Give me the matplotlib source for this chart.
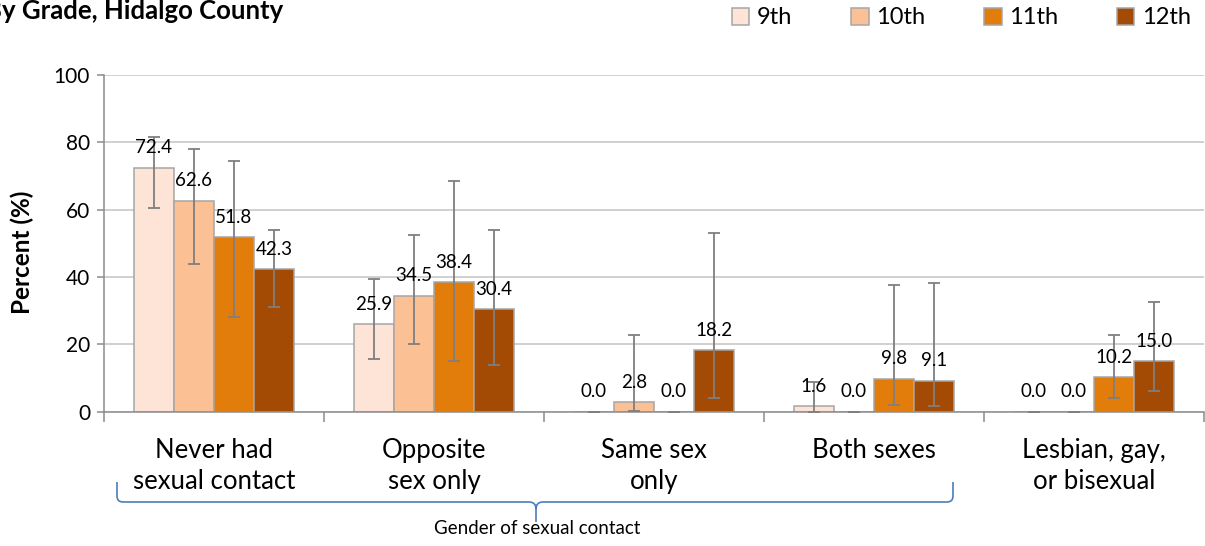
import matplotlib
matplotlib.use("Agg")
import matplotlib.pyplot as plt
import numpy as np
from matplotlib.path import Path
from matplotlib.patches import PathPatch
from matplotlib.transforms import Affine2D

plt.rcParams['font.family'] = ['Lato', 'DejaVu Sans']

categories = ["Never had\nsexual contact", "Opposite\nsex only", "Same sex\nonly",
              "Both sexes", "Lesbian, gay,\nor bisexual"]
grades = ["9th", "10th", "11th", "12th"]
values_9th = [72.4, 25.9, 0.0, 1.6, 0.0]
values_10th = [62.6, 34.5, 2.8, 0.0, 0.0]
values_11th = [51.8, 38.4, 0.0, 9.8, 10.2]
values_12th = [42.3, 30.4, 18.2, 9.1, 15.0]
ci_low_9th = [60.6, 15.7, 0.0, 0.0, 0.0]
ci_high_9th = [81.7, 39.5, 0.0, 8.7, 0.0]
ci_low_10th = [44.0, 20.0, 0.3, 0.0, 0.0]
ci_high_10th = [78.0, 52.5, 22.9, 0.0, 0.0]
ci_low_11th = [28.1, 15.2, 0.0, 1.9, 4.2]
ci_high_11th = [74.6, 68.5, 0.0, 37.5, 22.7]
ci_low_12th = [31.2, 13.9, 4.2, 1.6, 6.0]
ci_high_12th = [53.9, 54.1, 53.2, 38.2, 32.5]
y_ticks = [0, 20, 40, 60, 80, 100]

series = [values_9th, values_10th, values_11th, values_12th]
lows = [ci_low_9th, ci_low_10th, ci_low_11th, ci_low_12th]
highs = [ci_high_9th, ci_high_10th, ci_high_11th, ci_high_12th]
colors = ["#FDE4D7", "#FCC095", "#E27C0A", "#A34A05"]

W, H = 1205, 546
fig = plt.figure(figsize=(W / 100, H / 100), dpi=100)
ax = fig.add_axes([104 / W, 1 - 411.7 / H, 1100 / W, 336.7 / H])

x = np.arange(len(categories))
bw = 40 / 220
for i, (vals, lo, hi, col, g) in enumerate(zip(series, lows, highs, colors, grades)):
    pos = x + (i - 1.5) * bw
    vals = np.array(vals)
    ax.bar(pos, vals, bw, color=col, edgecolor="#A6A6A6", linewidth=1.1, label=g, zorder=2)
    yerr = np.vstack([vals - np.array(lo), np.array(hi) - vals])
    ax.errorbar(pos, vals, yerr=yerr, fmt="none", ecolor="#7F7F7F", elinewidth=1.3,
                capsize=4.3, capthick=1.3, zorder=3)
    for p, v in zip(pos, vals):
        ax.annotate(f"{v:.1f}", (p, v), xytext=(0, 14.5), textcoords="offset points",
                    ha="center", va="center", fontsize=13.5, color="#000000", zorder=4)

ax.set_xlim(-0.5, len(categories) - 0.5)
ax.set_ylim(0, 100)
ax.set_yticks(y_ticks)
ax.set_yticklabels([str(t) for t in y_ticks], fontsize=15)
ax.yaxis.grid(True, color="#C3C3C3", linewidth=1.1, zorder=0)
ax.set_axisbelow(True)
ax.set_xticks(np.arange(len(categories) + 1) - 0.5)
ax.set_xticklabels([])
ax.set_xticks(x, minor=True)
ax.set_xticklabels(categories, minor=True, fontsize=18.5, linespacing=1.3)
ax.tick_params(axis="x", which="major", length=7, width=1.1, color="#8C8C8C", direction="out")
ax.tick_params(axis="x", which="minor", length=0, pad=19)
ax.tick_params(axis="y", length=5, width=1.1, color="#8C8C8C", direction="out", pad=5)
for s in ["top", "right"]:
    ax.spines[s].set_visible(False)
for s in ["left", "bottom"]:
    ax.spines[s].set_color("#8C8C8C")
    ax.spines[s].set_linewidth(1.1)

fig.text(22 / W, 1 - 252 / H, "Percent (%)", rotation=90, ha="center", va="center",
         fontsize=17.5, fontweight="bold")
fig.text(-15 / W, 1 - 11 / H, "By Grade, Hidalgo County", ha="left", va="center",
         fontsize=18.5, fontweight="bold")

leg = fig.legend(loc="upper right", bbox_to_anchor=(1200 / W, 1 + 2 / H), ncol=4,
                 frameon=False, fontsize=17, handlelength=0.75, handleheight=0.75,
                 handletextpad=0.3, columnspacing=2.5, borderaxespad=0)

# brace under the first four categories
px = Affine2D().scale(1, -1).translate(0, H).scale(1 / W, 1 / H) + fig.transFigure
verts = [(117, 482), (117, 496), (117, 502), (123, 502), (529, 502), (536, 502), (536, 509),
         (536, 522), (536, 509), (536, 502), (543, 502), (947, 502), (953, 502), (953, 496),
         (953, 482)]
codes = [Path.MOVETO, Path.LINETO, Path.CURVE3, Path.CURVE3, Path.LINETO, Path.CURVE3,
         Path.CURVE3, Path.LINETO, Path.MOVETO, Path.CURVE3, Path.CURVE3, Path.LINETO,
         Path.CURVE3, Path.CURVE3, Path.LINETO]
fig.add_artist(PathPatch(Path(verts, codes), transform=px, fill=False,
                         edgecolor="#4A7EBB", linewidth=1.2))
fig.text(537 / W, 1 - 529 / H, "Gender of sexual contact", ha="center", va="center",
         fontsize=13.5)

fig.savefig("out.png", dpi=100)
